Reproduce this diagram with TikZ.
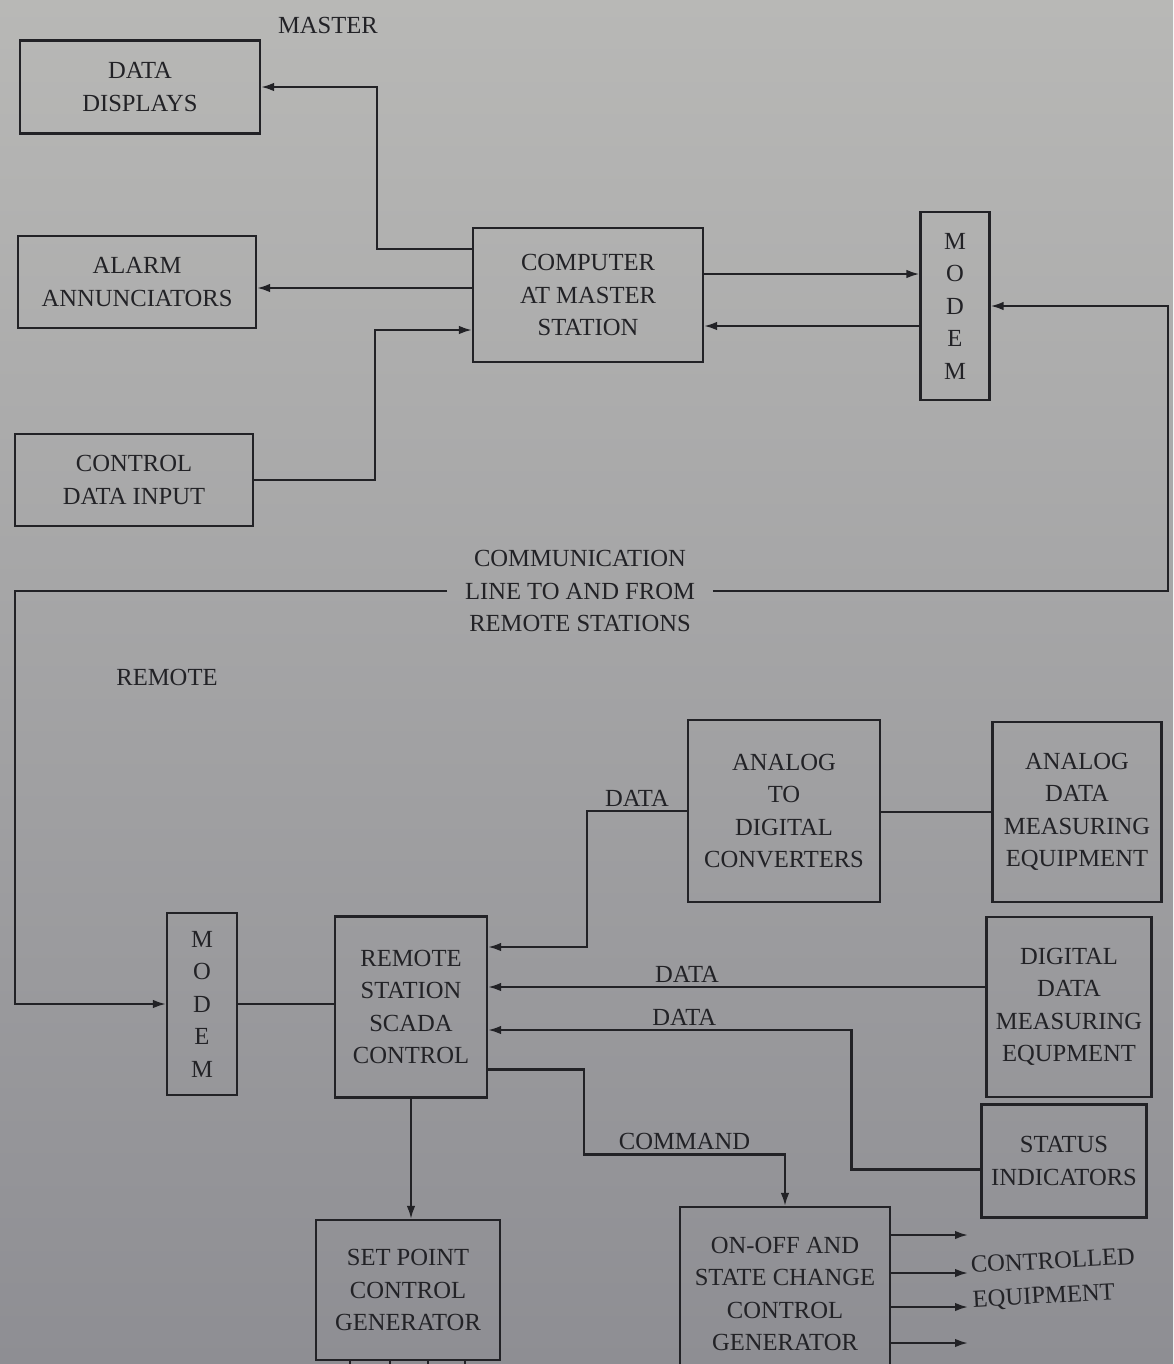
\documentclass[tikz,border=0pt]{standalone}
\usepackage{fontspec}
\setmainfont{Liberation Serif}
\usetikzlibrary{arrows.meta,positioning,calc}
\definecolor{paperT}{RGB}{184,184,182}
\definecolor{paperB}{RGB}{142,142,147}
\definecolor{ink}{RGB}{34,34,38}

\begin{document}
\begin{tikzpicture}[
  x=0.2mm, y=-0.2mm,
  >={Latex[length=2.6mm,width=1.7mm]},
  box/.style={draw=ink, line width=1.2pt, align=center, inner sep=2pt, text=ink, font=\fontsize{14}{18.5}\selectfont},
  lbl/.style={text=ink, align=center, inner sep=2pt, font=\fontsize{14}{18.5}\selectfont},
  wire/.style={draw=ink, line width=1.2pt},
  conn/.style={wire, ->}
]
\useasboundingbox (0,0) rectangle (1173,1364);
\fill[top color=paperT, bottom color=paperB] (0,0) rectangle (1173,1364);

% master station
\node[lbl] (master) at (328,25) {MASTER};
\node[box, minimum width=48mm, minimum height=18.6mm] (disp) at (140,87) {DATA\\DISPLAYS};
\node[box, minimum width=47.6mm, minimum height=18.4mm] (alarm) at (137,282) {ALARM\\ANNUNCIATORS};
\node[box, minimum width=47.6mm, minimum height=18.4mm] (ctrl) at (134,480) {CONTROL\\DATA INPUT};
\node[box, minimum width=46mm, minimum height=26.8mm] (comp) at (588,295) {COMPUTER\\AT MASTER\\STATION};
\node[box, minimum width=13.8mm, minimum height=37.6mm] (modemM) at (955,306) {M\\O\\D\\E\\M};

\draw[conn] ([yshift=9.2mm]comp.west) -- ++(-95,0) |- (disp.east);
\draw[conn] ([yshift=1.4mm]comp.west) -- ([yshift=1.4mm]comp.west -| alarm.east);
\draw[conn] (ctrl.east) -- ++(121,0) |- ([yshift=-7mm]comp.west);
\draw[conn] ([yshift=4.2mm]comp.east) -- ([yshift=4.2mm]comp.east -| modemM.west);
\draw[conn] ([yshift=-6.2mm]comp.east -| modemM.west) -- ([yshift=-6.2mm]comp.east);

% line between the stations
\node[lbl, inner xsep=3.5mm] (comm) at (580,591) {COMMUNICATION\\LINE TO AND FROM\\REMOTE STATIONS};
\coordinate (lineR) at (1168,591);
\coordinate (lineL) at (15,591);
\draw[conn] (comm.east) -- (lineR) |- (modemM.east);

% remote station
\node[lbl] (remote) at (167,677) {REMOTE};
\node[box, minimum width=14mm, minimum height=36.4mm] (modemR) at (202,1004) {M\\O\\D\\E\\M};
\node[box, minimum width=30.4mm, minimum height=36.2mm] (scada) at (411,1007) {REMOTE\\STATION\\SCADA\\CONTROL};
\node[box, minimum width=38.4mm, minimum height=36.4mm] (adc) at (784,811) {ANALOG\\TO\\DIGITAL\\CONVERTERS};
\node[box, minimum width=33.8mm, minimum height=36mm] (adme) at (1077,812) {ANALOG\\DATA\\MEASURING\\EQUIPMENT};
\node[box, minimum width=33mm, minimum height=36mm] (ddme) at (1069,1007) {DIGITAL\\DATA\\MEASURING\\EQUPMENT};
\node[box, minimum width=33mm, minimum height=22.6mm] (status) at (1064,1161) {STATUS\\INDICATORS};
\node[box, minimum width=36.8mm, minimum height=28mm] (setpt) at (408,1290) {SET POINT\\CONTROL\\GENERATOR};
\node[box, minimum width=42mm, minimum height=34.8mm] (onoff) at (785,1294) {ON-OFF AND\\STATE CHANGE\\CONTROL\\GENERATOR};
\node[lbl, align=left, anchor=west, rotate=3] (equip) at (968,1284) {CONTROLLED\\[1pt]EQUIPMENT};

\draw[conn] (comm.west) -- (lineL) |- (modemR.west);
\draw[wire] (modemR.east) -- (modemR.east -| scada.west);
\draw[wire] (adme.west) -- (adme.west -| adc.east);
\draw[conn] (adc.west) -- node[lbl, above]{DATA} ++(-100,0) |- ([yshift=12mm]scada.east);
\draw[conn] ([yshift=4mm]ddme.west) -- node[lbl, above, pos=0.6]{DATA} ([yshift=4mm]ddme.west -| scada.east);
\draw[conn] ([yshift=-1.7mm]status.west) -- ++(-129,0) |- node[lbl, above, pos=0.73]{DATA} ([yshift=-4.6mm]scada.east);
\draw[conn] ([yshift=-12.5mm]scada.east) -- ++(96,0) -- ++(0,85) -| node[lbl, above, pos=0.25]{COMMAND} (onoff.north);
\draw[conn] (scada.south) -- (scada.south |- setpt.north);

\foreach \dy in {11.8,4.2,-2.6,-9.8}
  \draw[conn] ([yshift=\dy mm]onoff.east) -- ([yshift=\dy mm]onoff.east -| equip.west);
\foreach \dx in {-11.6,-3.6,4,11.4}
  \draw[wire] ([xshift=\dx mm]setpt.south) -- ++(0,10);
\end{tikzpicture}
\end{document}
